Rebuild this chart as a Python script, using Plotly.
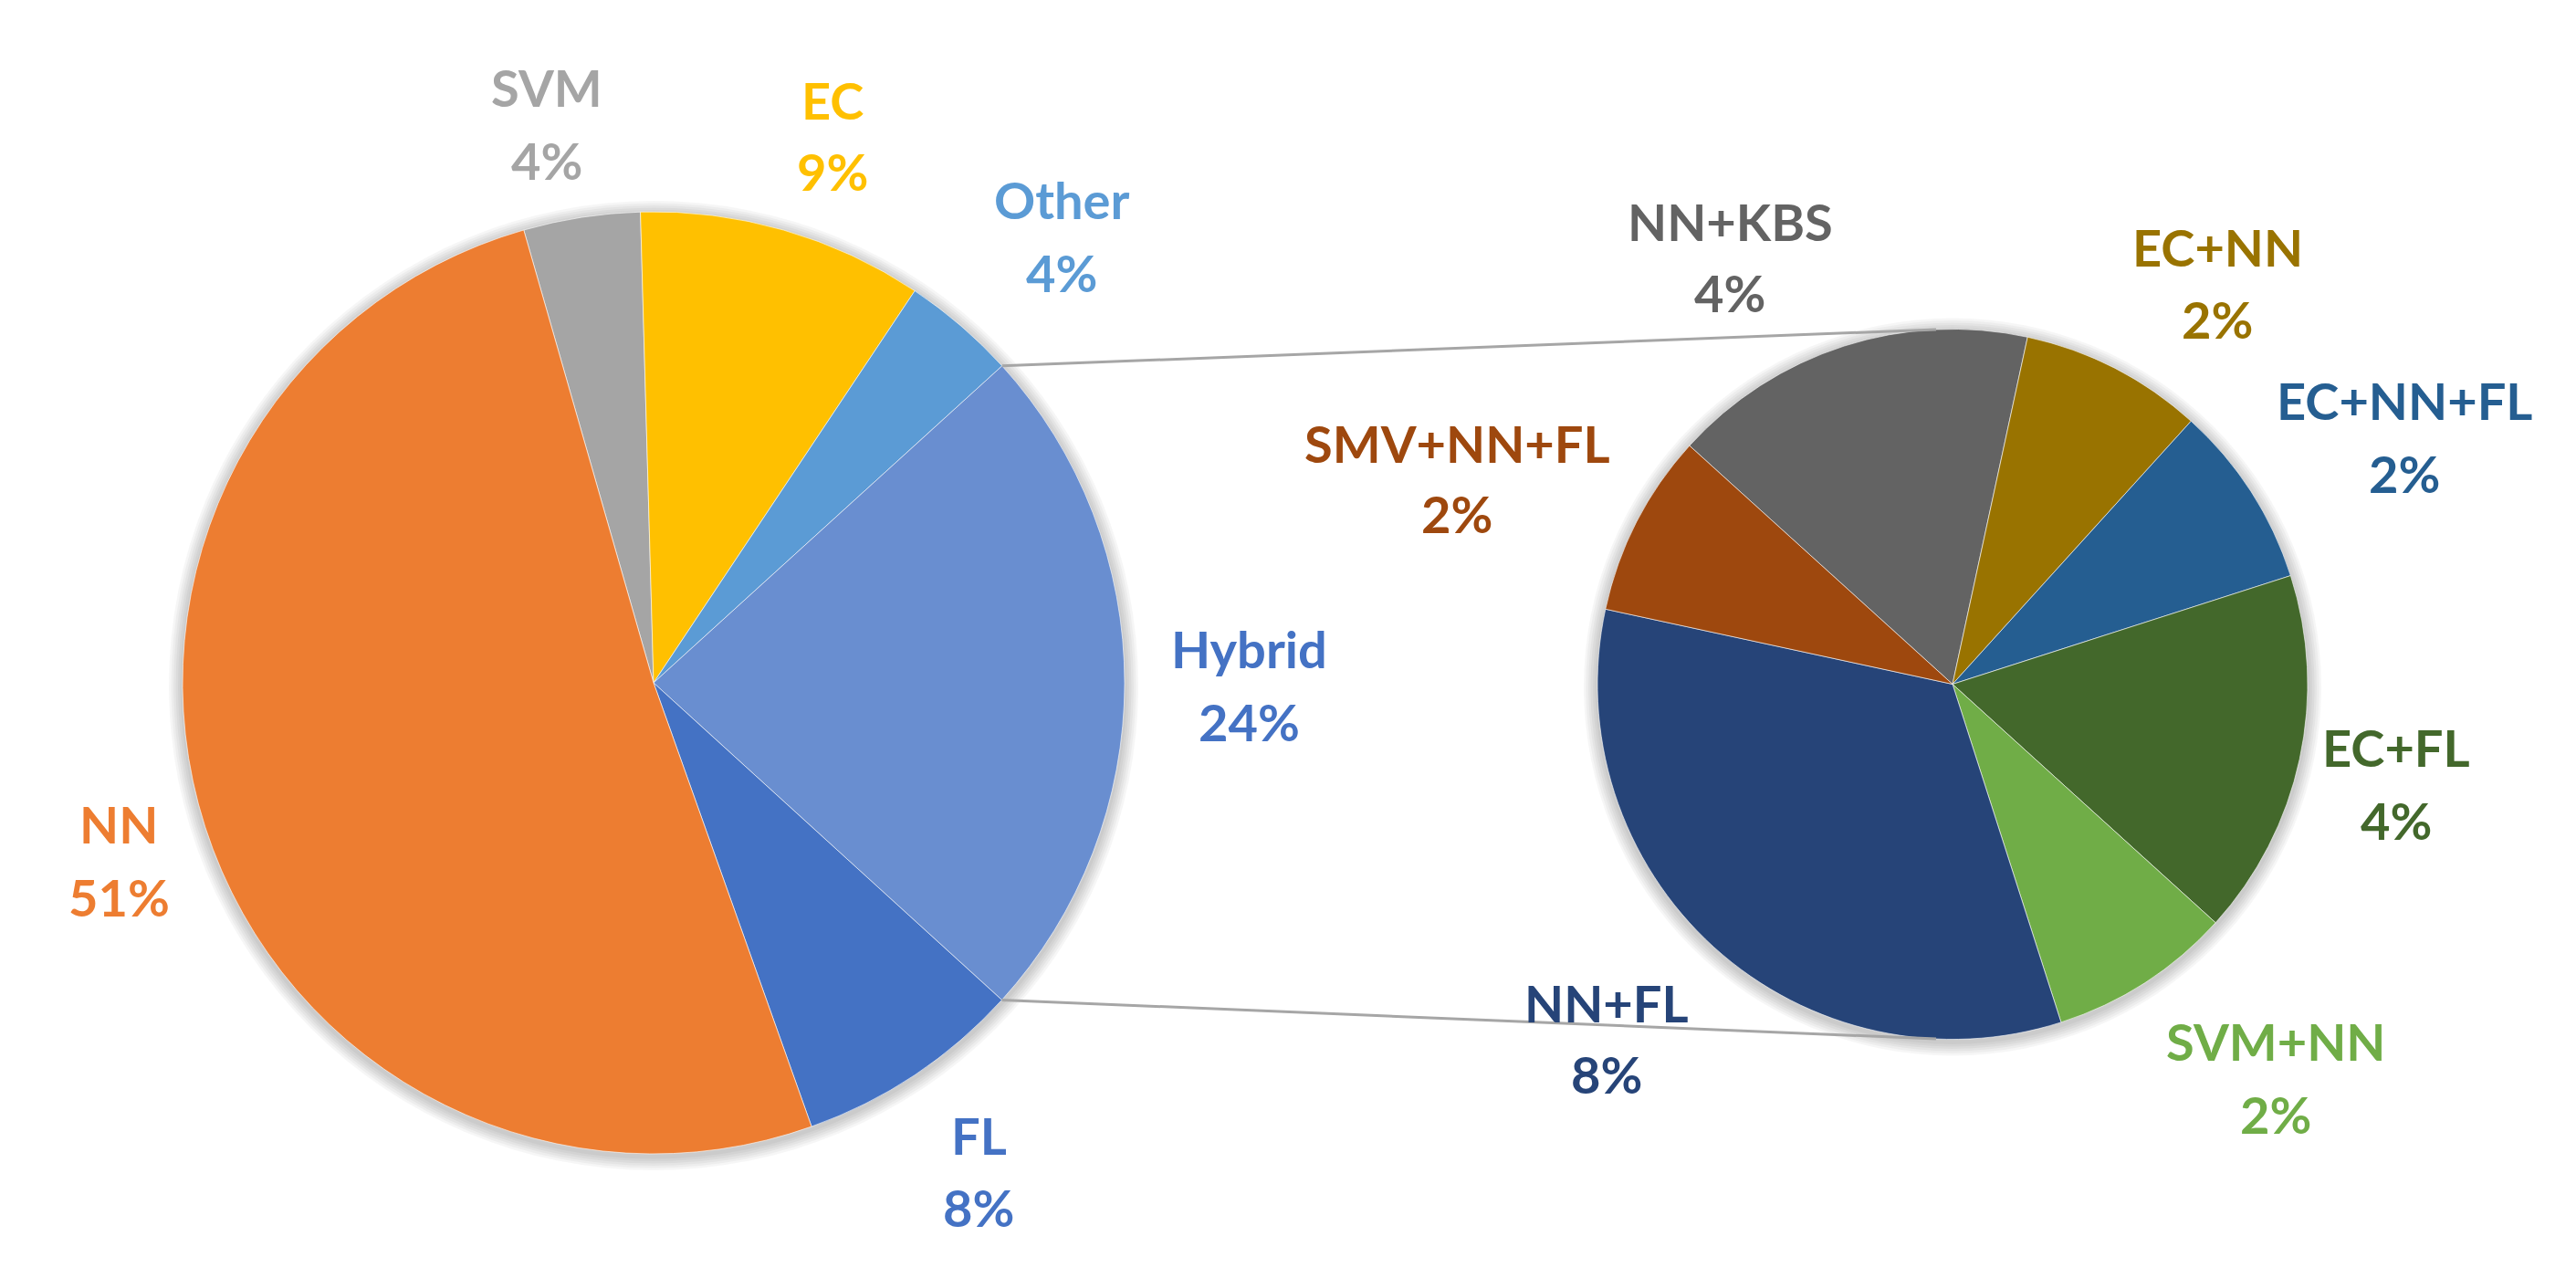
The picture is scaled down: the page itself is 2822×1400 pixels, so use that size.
import math
import plotly.graph_objects as go

# ---------------- data ----------------
main_labels = ["SVM", "EC", "Other", "Hybrid", "FL", "NN"]
main_values = [4.0, 9.8, 3.9, 23.5, 7.8, 51.0]
main_pct_text = ["4%", "9%", "4%", "24%", "8%", "51%"]   # printed labels

sub_labels = ["NN+KBS", "EC+NN", "EC+NN+FL", "EC+FL", "SVM+NN", "NN+FL", "SMV+NN+FL"]
sub_values = [4, 2, 2, 4, 2, 8, 2]
sub_pct_text = ["4%", "2%", "2%", "4%", "2%", "8%", "2%"]

# ---------------- styles ----------------
W, H = 2822, 1400
main_colors = ["#A5A5A5", "#FFC000", "#5B9BD5", "#698ED0", "#4472C4", "#ED7D31"]
main_text_colors = ["#A5A5A5", "#FFC000", "#5B9BD5", "#4472C4", "#4472C4", "#ED7D31"]
sub_colors = ["#636363", "#997300", "#255E91", "#43682B", "#70AD47", "#264478", "#9E480E"]

MC = (708, 740, 516)      # main pie centre x, y (px from top-left), radius
SC = (2131, 741.5, 389)   # secondary pie
MAIN_ROT = -16.0
SUB_ROT = -47.8
HYBRID = "Hybrid"

# label anchors (px): x, y of name line, y of percent line
main_label_pos = [(591, 88, 167), (904, 102, 180), (1155, 210, 290),
                  (1360, 702, 782), (1064, 1235, 1314), (122, 895, 974)]
sub_label_pos = [(1887, 235, 313), (2421, 262, 342), (2626, 431, 510),
                 (2617, 810, 890), (2485, 1132, 1212), (1752, 1090, 1168),
                 (1588, 477, 554)]

FONT = "Lato, 'Noto Sans', 'DejaVu Sans', sans-serif"
FSIZE = 56


def px2paper(x, y):
    return x / W, 1 - y / H


def domain(cx, cy, r):
    return dict(x=[(cx - r) / W, (cx + r) / W], y=[(H - cy - r) / H, (H - cy + r) / H])


fig = go.Figure()

# soft drop shadow behind both pies
for (cx, cy, r) in (MC, SC):
    for k in range(6, 0, -1):
        fig.add_trace(go.Pie(values=[1], labels=["shadow"], domain=domain(cx, cy + 3, r + 2.5 * k),
                             marker=dict(colors=["rgba(0,0,0,0.035)"], line=dict(width=0)),
                             textinfo="none", hoverinfo="skip", showlegend=False, sort=False))

fig.add_trace(go.Pie(
    labels=main_labels, values=main_values, sort=False, direction="clockwise",
    rotation=MAIN_ROT, domain=domain(*MC),
    marker=dict(colors=main_colors, line=dict(color="rgba(255,255,255,0.6)", width=1)),
    textinfo="none", hoverinfo="label+percent", showlegend=False))

fig.add_trace(go.Pie(
    labels=sub_labels, values=sub_values, sort=False, direction="clockwise",
    rotation=SUB_ROT, domain=domain(*SC),
    marker=dict(colors=sub_colors, line=dict(color="rgba(255,255,255,0.6)", width=1)),
    textinfo="none", hoverinfo="label+percent", showlegend=False))

# connector lines from the Hybrid slice edges to top / bottom of the secondary pie
tot = sum(main_values)
hi = main_labels.index(HYBRID)
a0 = MAIN_ROT + 360 * sum(main_values[:hi]) / tot
a1 = a0 + 360 * main_values[hi] / tot
cx, cy, r = MC
sx, sy, sr = SC
p_top = (cx + r * math.sin(math.radians(a0)), cy - r * math.cos(math.radians(a0)))
p_bot = (cx + r * math.sin(math.radians(a1)), cy - r * math.cos(math.radians(a1)))
dx = 18
dy = math.sqrt(sr ** 2 - dx ** 2)
q_top = (sx - dx, sy - dy)
q_bot = (sx - dx, sy + dy)
for p, q in ((p_top, q_top), (p_bot, q_bot)):
    x0, y0 = px2paper(*p)
    x1, y1 = px2paper(*q)
    fig.add_shape(type="line", xref="paper", yref="paper", x0=x0, y0=y0, x1=x1, y1=y1,
                  line=dict(color="#A6A6A6", width=3))

annotations = []


def add_labels(names, pcts, positions, colors):
    for name, pct, (x, yn, yp), col in zip(names, pcts, positions, colors):
        for txt, yy in ((name, yn), (pct, yp)):
            ax, ay = px2paper(x, yy)
            annotations.append(dict(x=ax, y=ay, xref="paper", yref="paper", text=txt,
                                    showarrow=False, xanchor="center", yanchor="middle",
                                    font=dict(family=FONT, size=FSIZE, color=col, weight="bold")))


add_labels(main_labels, main_pct_text, main_label_pos, main_text_colors)
add_labels(sub_labels, sub_pct_text, sub_label_pos, sub_colors)

fig.update_layout(width=W, height=H, margin=dict(l=0, r=0, t=0, b=0),
                  paper_bgcolor="white", plot_bgcolor="white",
                  annotations=annotations, showlegend=False)

fig.write_html("out.html")
